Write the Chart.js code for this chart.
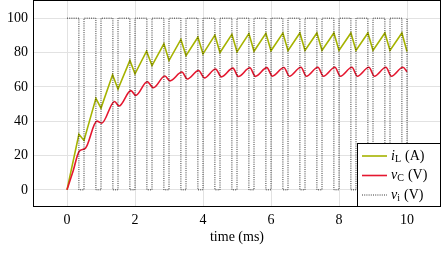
<!DOCTYPE html>
<html>
<head>
<meta charset="utf-8">
<script src="https://cdn.jsdelivr.net/npm/chart.js@4"></script>
<style>
  html, body { margin: 0; padding: 0; background: #fff; }
  canvas { display: block; }
</style>
</head>
<body>
<canvas id="chart" width="442" height="253"></canvas>
<script>
const xTicks = [0, 2, 4, 6, 8, 10];
const yTicks = [0, 20, 40, 60, 80, 100];

// inductor current i_L (A)
const iLTime = [0, 0.35, 0.5, 0.85, 1.0, 1.34, 1.5, 1.85, 2.0, 2.34, 2.5, 2.85, 3.0, 3.35,
  3.5, 3.85, 4.0, 4.35, 4.5, 4.85, 5.0, 5.35, 5.5, 5.85, 6.0, 6.35, 6.5, 6.85, 7.0, 7.35,
  7.5, 7.85, 8.0, 8.35, 8.5, 8.85, 9.0, 9.35, 9.5, 9.85, 10.0];
const iLValue = [0, 32.4, 28.8, 53.3, 47.6, 67.0, 58.7, 75.4, 67.6, 80.8, 72.4, 85.1, 75.3, 87.6,
  78.2, 88.9, 79.2, 90.1, 80.0, 90.6, 80.4, 91.0, 80.7, 91.2, 81.0, 91.3, 81.1, 91.4, 81.2, 91.4,
  81.2, 91.4, 81.2, 91.4, 81.2, 91.4, 81.2, 91.4, 81.2, 91.4, 80.6];

// capacitor voltage v_C (V)
const vCTime = [0, 0.18, 0.36, 0.54, 0.88, 1.02, 1.4, 1.53, 1.88, 2.02, 2.36, 2.54, 2.88, 3.03,
  3.38, 3.54, 3.87, 4.04, 4.37, 4.54, 4.88, 5.04, 5.38, 5.54, 5.88, 6.04, 6.38, 6.54, 6.88, 7.04,
  7.38, 7.54, 7.88, 8.04, 8.38, 8.54, 8.88, 9.04, 9.38, 9.54, 9.88, 10.0];
const vCValue = [0, 11.0, 22.5, 24.2, 40.0, 38.8, 51.5, 48.8, 57.8, 55.0, 63.0, 59.5, 66.3, 63.5,
  68.6, 64.6, 69.5, 65.2, 70.4, 65.8, 70.9, 66.0, 71.1, 66.1, 71.2, 66.2, 71.3, 66.2, 71.4, 66.2,
  71.4, 66.2, 71.4, 66.2, 71.4, 66.2, 71.4, 66.2, 71.4, 66.2, 71.4, 68.8];

// input voltage v_i (V): switching instants
const viHigh = 100;
const viLow = 0;
const viFallTimes = [0.35, 0.85, 1.35, 1.85, 2.35, 2.85, 3.35, 3.85, 4.35, 4.85,
  5.35, 5.85, 6.35, 6.85, 7.35, 7.85, 8.35, 8.85, 9.35, 9.85];
const viRiseTimes = [0.5, 1.0, 1.5, 2.0, 2.5, 3.0, 3.5, 4.0, 4.5, 5.0,
  5.5, 6.0, 6.5, 7.0, 7.5, 8.0, 8.5, 9.0, 9.5, 10.0];

const green = "#a6b300";
const red = "#e5172f";
const serif = "'Liberation Serif', 'DejaVu Serif', serif";

const toPoints = (xs, ys) => xs.map((x, i) => ({x: x, y: ys[i]}));

const viPoints = [{x: 0, y: viHigh}];
viFallTimes.forEach((tf, i) => {
  const tr = viRiseTimes[i];
  viPoints.push({x: tf, y: viHigh}, {x: tf, y: viLow}, {x: tr, y: viLow}, {x: tr, y: viHigh});
});

const legendItems = [
  {main: "i", sub: "L", unit: "(A)", color: green, width: 1.6, dash: []},
  {main: "v", sub: "C", unit: "(V)", color: red, width: 1.6, dash: []},
  {main: "v", sub: "i", unit: "(V)", color: "#000", width: 0.8, dash: [1, 1.2]}
];

const framePlugin = {
  id: "frame",
  afterDraw: chart => {
    const ctx = chart.ctx;
    const a = chart.chartArea;
    ctx.save();
    ctx.strokeStyle = "#000";
    ctx.lineWidth = 1;
    ctx.strokeRect(a.left + 0.5, a.top - 0.5, a.right - a.left - 1, a.bottom - a.top);

    // legend box in the lower right corner
    const bx = a.right - 84;
    const by = a.bottom - 64;
    ctx.fillStyle = "#fff";
    ctx.fillRect(bx, by, a.right - bx, a.bottom - by);
    ctx.strokeRect(bx + 0.5, by + 0.5, a.right - bx - 1, a.bottom - by - 1);

    legendItems.forEach((item, idx) => {
      const rowY = by + 13 + idx * 19.5;
      ctx.beginPath();
      ctx.setLineDash(item.dash);
      ctx.strokeStyle = item.color;
      ctx.lineWidth = item.width;
      ctx.moveTo(bx + 5, rowY);
      ctx.lineTo(bx + 30, rowY);
      ctx.stroke();
      ctx.setLineDash([]);

      ctx.fillStyle = "#000";
      ctx.textBaseline = "middle";
      let x = bx + 34;
      ctx.font = "italic 14px " + serif;
      ctx.fillText(item.main, x, rowY);
      x += ctx.measureText(item.main).width;
      ctx.font = "10px " + serif;
      ctx.fillText(item.sub, x, rowY + 3);
      x += ctx.measureText(item.sub).width + 4;
      ctx.font = "14px " + serif;
      ctx.fillText(item.unit, x, rowY);
    });
    ctx.restore();
  }
};

new Chart(document.getElementById("chart"), {
  type: "scatter",
  plugins: [framePlugin],
  data: {
    datasets: [
      {
        label: "v_i (V)",
        data: viPoints,
        showLine: true,
        borderColor: "#000",
        borderWidth: 0.8,
        borderDash: [1, 1.2],
        pointRadius: 0,
        tension: 0,
        order: 1
      },
      {
        label: "v_C (V)",
        data: toPoints(vCTime, vCValue),
        showLine: true,
        borderColor: red,
        borderWidth: 1.6,
        pointRadius: 0,
        cubicInterpolationMode: "monotone",
        order: 2
      },
      {
        label: "i_L (A)",
        data: toPoints(iLTime, iLValue),
        showLine: true,
        borderColor: green,
        borderWidth: 1.6,
        pointRadius: 0,
        tension: 0,
        order: 3
      }
    ]
  },
  options: {
    responsive: false,
    animation: false,
    layout: {padding: {left: 0, right: 1, top: 1, bottom: 0}},
    plugins: {
      legend: {display: false},
      tooltip: {enabled: false}
    },
    scales: {
      x: {
        type: "linear",
        min: -1,
        max: 11,
        afterBuildTicks: scale => {
          scale.ticks = xTicks.map(v => ({value: v}));
        },
        afterFit: scale => {
          scale.height = 46;
          scale.paddingLeft = 0;
          scale.paddingRight = 0;
        },
        grid: {color: "#e2e2e2", drawTicks: false, tickLength: 0},
        border: {display: false},
        ticks: {
          color: "#000",
          padding: 5,
          font: {family: serif, size: 14}
        },
        title: {
          display: true,
          text: "time (ms)",
          color: "#000",
          font: {family: serif, size: 14},
          padding: {top: 0, bottom: 7}
        }
      },
      y: {
        type: "linear",
        min: -10,
        max: 110,
        afterBuildTicks: scale => {
          scale.ticks = yTicks.map(v => ({value: v}));
        },
        afterFit: scale => {
          scale.width = 33;
          scale.paddingTop = 0;
          scale.paddingBottom = 0;
        },
        grid: {color: "#e2e2e2", drawTicks: false, tickLength: 0},
        border: {display: false},
        ticks: {
          color: "#000",
          padding: 5,
          font: {family: serif, size: 14}
        }
      }
    }
  }
});
</script>
</body>
</html>
